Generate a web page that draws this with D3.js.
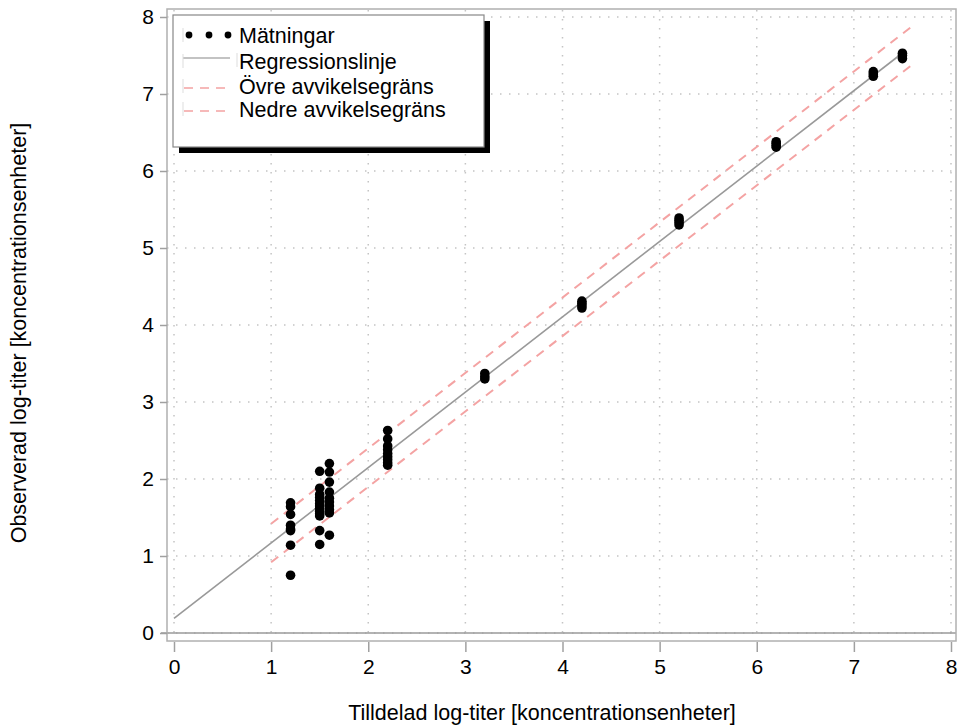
<!DOCTYPE html>
<html>
<head>
<meta charset="utf-8">
<script src="https://cdn.jsdelivr.net/npm/d3@7"></script>
<style>
  body { margin: 0; background: #fff; }
  text { font-family: "Liberation Sans", Arial, sans-serif; fill: #000; }
</style>
</head>
<body>
<div id="chart"></div>
<script>
// tick values
var xTicks = [0, 1, 2, 3, 4, 5, 6, 7, 8];
var yTicks = [0, 1, 2, 3, 4, 5, 6, 7, 8];

// measurements: assigned log-titer and observed log-titer
var assigned = [
  1.2, 1.2, 1.2, 1.2, 1.2, 1.2, 1.2, 1.2,
  1.5, 1.5, 1.5, 1.5, 1.5, 1.5, 1.5, 1.5, 1.5, 1.5, 1.5, 1.5, 1.5,
  1.6, 1.6, 1.6, 1.6, 1.6, 1.6, 1.6, 1.6, 1.6, 1.6,
  2.2, 2.2, 2.2, 2.2, 2.2, 2.2, 2.2, 2.2, 2.2,
  3.2, 3.2, 3.2,
  4.2, 4.2, 4.2, 4.2,
  5.2, 5.2, 5.2, 5.2,
  6.2, 6.2, 6.2, 6.2,
  7.2, 7.2, 7.2,
  7.5, 7.5, 7.5
];
var observed = [
  1.69, 1.64, 1.54, 1.40, 1.35, 1.33, 1.14, 0.75,
  2.10, 1.88, 1.80, 1.76, 1.72, 1.68, 1.65, 1.62, 1.58, 1.55, 1.52, 1.33, 1.15,
  2.20, 2.09, 1.96, 1.83, 1.75, 1.70, 1.65, 1.60, 1.56, 1.27,
  2.63, 2.52, 2.43, 2.38, 2.33, 2.29, 2.25, 2.21, 2.18,
  3.30, 3.33, 3.37,
  4.22, 4.25, 4.28, 4.31,
  5.30, 5.33, 5.36, 5.39,
  6.31, 6.33, 6.36, 6.38,
  7.23, 7.26, 7.29,
  7.46, 7.50, 7.53
];

// regression line and deviation limits
var regIntercept = 0.19;
var regSlope = 0.979;
var regRange = [0, 7.5];
var limitOffset = 0.25;
var limitRange = [1, 7.6];

var legendLabels = ["Mätningar", "Regressionslinje", "Övre avvikelsegräns", "Nedre avvikelsegräns"];

var width = 959, height = 728;

var svg = d3.select("#chart").append("svg")
    .attr("width", width)
    .attr("height", height);

var x = d3.scaleLinear().domain([0, 8]).range([174, 951]);
var y = d3.scaleLinear().domain([0, 8]).range([633, 17]);

// grid (dotted)
var grid = svg.append("g").attr("class", "grid");
grid.selectAll(".gx").data(xTicks).enter().append("line")
    .attr("x1", function(d) { return x(d); })
    .attr("x2", function(d) { return x(d); })
    .attr("y1", 10).attr("y2", 640)
    .style("stroke", "#c4c4c4")
    .style("stroke-width", 1.5)
    .style("stroke-dasharray", "1.5,7.5");
grid.selectAll(".gy").data(yTicks).enter().append("line")
    .attr("y1", function(d) { return y(d); })
    .attr("y2", function(d) { return y(d); })
    .attr("x1", 167).attr("x2", 956)
    .style("stroke", "#c4c4c4")
    .style("stroke-width", 1.5)
    .style("stroke-dasharray", "1.5,7.5");

// solid line at zero
svg.append("line")
    .attr("x1", 161).attr("x2", 956)
    .attr("y1", y(0)).attr("y2", y(0))
    .style("stroke", "#9a9a9a")
    .style("stroke-width", 1.5);

// frame
svg.append("rect")
    .attr("x", 167).attr("y", 9)
    .attr("width", 789).attr("height", 632)
    .style("fill", "none")
    .style("stroke", "#b0b0b0")
    .style("stroke-width", 1.5);

// axes
var xAxis = d3.axisBottom(x).tickValues(xTicks).tickSize(10).tickPadding(7).tickFormat(d3.format("d"));
var yAxis = d3.axisLeft(y).tickValues(yTicks).tickSize(7).tickPadding(6).tickFormat(d3.format("d"));

var gx = svg.append("g").attr("transform", "translate(0,642)").call(xAxis);
var gy = svg.append("g").attr("transform", "translate(167,0)").call(yAxis);
[gx, gy].forEach(function(g) {
  g.select(".domain").remove();
  g.selectAll(".tick line").style("stroke", "#a0a0a0").style("stroke-width", 1.5);
  g.selectAll(".tick text").style("font-size", "21px")
    .style("font-family", "'Liberation Sans', Arial, sans-serif").style("fill", "#000");
});

// regression line
var line = d3.line()
    .x(function(d) { return x(d[0]); })
    .y(function(d) { return y(d[1]); });

svg.append("path")
    .datum(regRange.map(function(v) { return [v, regIntercept + regSlope * v]; }))
    .attr("d", line)
    .style("fill", "none")
    .style("stroke", "#999")
    .style("stroke-width", 1.6);

// limits
[limitOffset, -limitOffset].forEach(function(off) {
  svg.append("path")
      .datum(limitRange.map(function(v) { return [v, regIntercept + regSlope * v + off]; }))
      .attr("d", line)
      .style("fill", "none")
      .style("stroke", "#f4a3a3")
      .style("stroke-width", 2)
      .style("stroke-dasharray", "9,7");
});

// points
svg.selectAll(".dot")
    .data(assigned)
  .enter().append("circle")
    .attr("class", "dot")
    .attr("r", 4.8)
    .attr("cx", function(d) { return x(d); })
    .attr("cy", function(d, i) { return y(observed[i]); })
    .style("fill", "#000");

// legend
var lg = svg.append("g").attr("class", "legend");
lg.append("rect").attr("x", 179).attr("y", 21).attr("width", 311).attr("height", 132).style("fill", "#000");
lg.append("rect").attr("x", 173).attr("y", 15).attr("width", 311).attr("height", 132)
    .style("fill", "#fff").style("stroke", "#888").style("stroke-width", 1.2);

var rowY = [35, 61, 86, 109];
[189, 209, 228].forEach(function(cx) {
  lg.append("circle").attr("cx", cx).attr("cy", rowY[0]).attr("r", 3.4).style("fill", "#000");
});
lg.append("line").attr("x1", 183).attr("x2", 230).attr("y1", rowY[1] - 3).attr("y2", rowY[1] - 3)
    .style("stroke", "#888").style("stroke-width", 1.2);
[2, 3].forEach(function(i) {
  lg.append("line").attr("x1", 184).attr("x2", 230).attr("y1", rowY[i] + 2).attr("y2", rowY[i] + 2)
      .style("stroke", "#f4a3a3").style("stroke-width", 1.6).style("stroke-dasharray", "9,7");
});
rowY.forEach(function(ry) {
  lg.append("line").attr("x1", 183).attr("x2", 183).attr("y1", ry - 7).attr("y2", ry + 7)
      .style("stroke", "#ddd").style("stroke-width", 1);
});
lg.append("line").attr("x1", 237).attr("x2", 237).attr("y1", rowY[1] - 8).attr("y2", rowY[1] + 6)
    .style("stroke", "#ddd").style("stroke-width", 1);

lg.selectAll(".ltext").data(legendLabels).enter().append("text")
    .attr("x", 239)
    .attr("y", function(d, i) { return rowY[i]; })
    .attr("dy", "0.35em")
    .style("font-size", "21.5px")
    .text(function(d) { return d; });

// axis titles
svg.append("text")
    .attr("text-anchor", "middle")
    .attr("transform", "translate(542,712)")
    .style("font-size", "21.5px")
    .attr("dy", "0.35em")
    .text("Tilldelad log-titer [koncentrationsenheter]");

svg.append("text")
    .attr("text-anchor", "middle")
    .attr("transform", "translate(18,333)rotate(-90)")
    .style("font-size", "21.5px")
    .attr("dy", "0.35em")
    .text("Observerad log-titer [koncentrationsenheter]");
</script>
</body>
</html>
